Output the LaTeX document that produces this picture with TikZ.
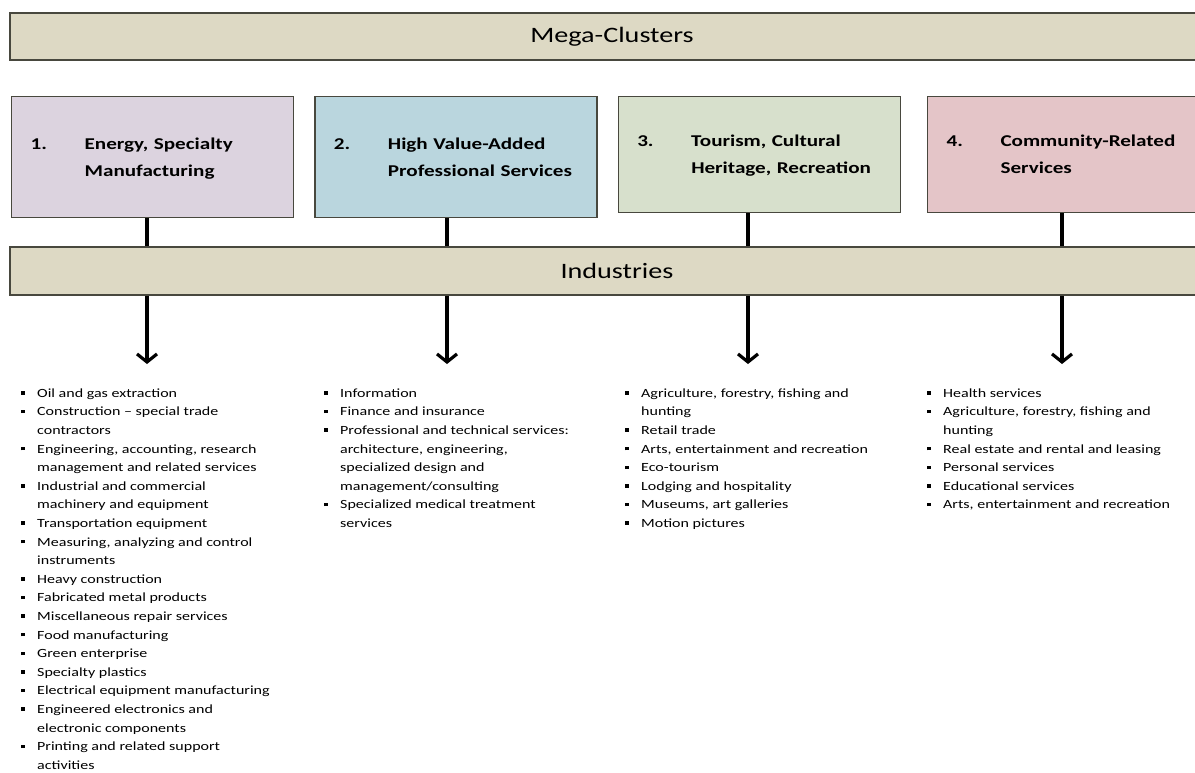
\documentclass[tikz,border=0pt]{standalone}
\usepackage{fontspec}
\setmainfont{Carlito}[FakeStretch=1.28]
\usepackage{array}
\usetikzlibrary{positioning,arrows.meta}

\definecolor{bartan}{RGB}{221,217,196}
\definecolor{edgegray}{RGB}{72,72,62}
\definecolor{lilac}{RGB}{220,211,223}
\definecolor{paleblue}{RGB}{186,214,222}
\definecolor{palegreen}{RGB}{215,224,204}
\definecolor{palepink}{RGB}{228,197,200}

\tikzset{
	bar/.style={draw=edgegray, line width=1.8pt, fill=bartan, minimum height=47pt, inner sep=0pt, font=\fontsize{22}{26}\selectfont},
	cluster/.style={draw=edgegray, line width=1.3pt, minimum width=282pt, minimum height=121pt, text width=244pt, inner xsep=19pt, align=left, font=\bfseries\fontsize{16.5}{27}\selectfont},
	stem/.style={line width=3.2pt},
	down/.style={line width=3.2pt, -{Straight Barb[length=8pt,width=20pt]}},
	list/.style={anchor=north west, inner sep=0pt, align=left, font=\fontsize{12.5}{18.6}\selectfont},
}
\newcommand{\bul}{\raisebox{2.6pt}{\rule{3.4pt}{3.4pt}}}
\newenvironment{items}{\begin{tabular}{@{}p{16pt}@{}l@{}}}{\end{tabular}}
\newenvironment{clus}{\begin{tabular}{@{}p{54pt}@{}l@{}}}{\end{tabular}}

\begin{document}
\begin{tikzpicture}[x=1pt,y=-1pt]
	\useasboundingbox (0,0) rectangle (1195,772);
	\node at (612,36.5) [bar, minimum width=1204pt] (mega) {Mega-Clusters};
	\node at (11,96) [cluster, anchor=north west, fill=lilac] (c1) {\begin{clus}1. & Energy, Specialty\\ & Manufacturing\end{clus}};
	\node [cluster, fill=paleblue, right=20pt of c1] (c2) {\begin{clus}2. & High Value-Added\\ & Professional Services\end{clus}};
	\node at ([xshift=20pt]c2.north east) [cluster, anchor=north west, minimum height=116pt, fill=palegreen] (c3) {\begin{clus}3. & Tourism, Cultural\\ & Heritage, Recreation\end{clus}};
	\node at ([xshift=26pt]c3.north east) [cluster, anchor=north west, minimum height=116pt, minimum width=290pt, text width=252pt, fill=palepink] (c4) {\begin{clus}4. & Community-Related\\ & Services\end{clus}};
	\node at (617,271) [bar, minimum width=1214pt, minimum height=48pt] (ind) {Industries};
	% free ends of the arrows
	\coordinate (a1) at (147,364);
	\coordinate (a2) at (447,364);
	\coordinate (a3) at (748,364);
	\coordinate (a4) at (1062,364);
	\draw [stem] (c1.south -| a1) -- (ind.north -| a1);
	\draw [stem] (c2.south -| a2) -- (ind.north -| a2);
	\draw [stem] (c3.south -| a3) -- (ind.north -| a3);
	\draw [stem] (c4.south -| a4) -- (ind.north -| a4);
	\draw [down] (ind.south -| a1) -- (a1);
	\draw [down] (ind.south -| a2) -- (a2);
	\draw [down] (ind.south -| a3) -- (a3);
	\draw [down] (ind.south -| a4) -- (a4);
	\node at (21,384) [list] (l1) {\begin{items}
		\bul & Oil and gas extraction\\
		\bul & Construction -- special trade\\
		& contractors\\
		\bul & Engineering, accounting, research\\
		& management and related services\\
		\bul & Industrial and commercial\\
		& machinery and equipment\\
		\bul & Transportation equipment\\
		\bul & Measuring, analyzing and control\\
		& instruments\\
		\bul & Heavy construction\\
		\bul & Fabricated metal products\\
		\bul & Miscellaneous repair services\\
		\bul & Food manufacturing\\
		\bul & Green enterprise\\
		\bul & Specialty plastics\\
		\bul & Electrical equipment manufacturing\\
		\bul & Engineered electronics and\\
		& electronic components\\
		\bul & Printing and related support\\
		& activities
	\end{items}};
	\node at (324,384) [list] (l2) {\begin{items}
		\bul & Information\\
		\bul & Finance and insurance\\
		\bul & Professional and technical services:\\
		& architecture, engineering,\\
		& specialized design and\\
		& management/consulting\\
		\bul & Specialized medical treatment\\
		& services
	\end{items}};
	\node at (625,384) [list] (l3) {\begin{items}
		\bul & Agriculture, forestry, fishing and\\
		& hunting\\
		\bul & Retail trade\\
		\bul & Arts, entertainment and recreation\\
		\bul & Eco-tourism\\
		\bul & Lodging and hospitality\\
		\bul & Museums, art galleries\\
		\bul & Motion pictures
	\end{items}};
	\node at (927,384) [list] (l4) {\begin{items}
		\bul & Health services\\
		\bul & Agriculture, forestry, fishing and\\
		& hunting\\
		\bul & Real estate and rental and leasing\\
		\bul & Personal services\\
		\bul & Educational services\\
		\bul & Arts, entertainment and recreation
	\end{items}};
\end{tikzpicture}
\end{document}
